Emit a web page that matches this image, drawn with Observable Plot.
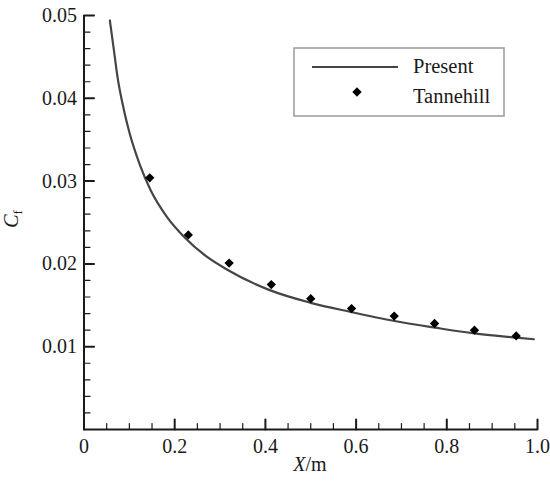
<!DOCTYPE html>
<html><head><meta charset="utf-8">
<script src="https://cdn.jsdelivr.net/npm/d3@7"></script>
<script src="https://cdn.jsdelivr.net/npm/@observablehq/plot@0.6"></script>
<style>body{margin:0;background:#fff}</style>
</head><body><div id="chart"></div>
<script>
// Present (solid curve)
const presentX  = [0.057, 0.066, 0.073, 0.088, 0.100, 0.123, 0.147, 0.184, 0.222, 0.270, 0.316, 0.411, 0.500, 0.588, 0.685, 0.774, 0.861, 0.953, 0.992];
const presentCf = [0.0494, 0.0458, 0.0429, 0.0386, 0.0359, 0.0320, 0.0289, 0.0256, 0.0232, 0.0209, 0.0193, 0.0168, 0.0153, 0.0142, 0.0131, 0.0123, 0.0116, 0.0111, 0.0109];
// Tannehill (diamonds)
const tannehillX  = [0.145, 0.23, 0.32, 0.413, 0.50, 0.59, 0.684, 0.773, 0.861, 0.953];
const tannehillCf = [0.0304, 0.0235, 0.0201, 0.0175, 0.0158, 0.0146, 0.0137, 0.0128, 0.0120, 0.0113];
// axes
const xTicks = [0, 0.2, 0.4, 0.6, 0.8, 1.0];
const xTickLabels = ["0", "0.2", "0.4", "0.6", "0.8", "1.0"];
const yTicks = [0.01, 0.02, 0.03, 0.04, 0.05];
const yTickLabels = ["0.01", "0.02", "0.03", "0.04", "0.05"];
const xMinor = d3.range(0, 21).map(i => i * 0.05).filter((v, i) => i % 4 !== 0);
const yMinor = d3.range(0, 26).map(i => i * 0.002).filter((v, i) => i % 5 !== 0);
const legendLabels = ["Present", "Tannehill"];

const ink = "#1a1a1a";
const font = '"Liberation Serif"';
const ctx = document.createElement("canvas").getContext("2d");
["", "italic "].forEach(s => { ctx.font = `${s}20px ${font}`; ctx.measureText("Tannehill 0.05 X/m Cf"); });

const tickShape = {draw(context, l) { context.moveTo(0, 0); context.lineTo(0, -l); }};

const plot = Plot.plot({
  width: 550, height: 482,
  marginLeft: 83.5, marginRight: 13, marginTop: 15, marginBottom: 53,
  style: {fontFamily: font, fontSize: "20px", color: ink, background: "white"},
  x: {domain: [0, 1]},
  y: {domain: [0, 0.05]},
  marks: [
    Plot.axisX(xTicks, {tickSize: 0, tickPadding: 9, tickFormat: (d, i) => xTickLabels[i], label: null}),
    Plot.axisY(yTicks, {tickSize: 0, tickPadding: 7, tickFormat: (d, i) => yTickLabels[i], label: null}),
    // inward ticks
    Plot.vector(xTicks, {x: d => d, y: 0, length: 10, rotate: 0, anchor: "start", shape: tickShape, stroke: ink, strokeWidth: 2}),
    Plot.vector(yTicks, {x: 0, y: d => d, length: 10, rotate: 90, anchor: "start", shape: tickShape, stroke: ink, strokeWidth: 2}),
    Plot.vector(xMinor, {x: d => d, y: 0, length: 6, rotate: 0, anchor: "start", shape: tickShape, stroke: ink, strokeWidth: 1.2}),
    Plot.vector(yMinor, {x: 0, y: d => d, length: 6, rotate: 90, anchor: "start", shape: tickShape, stroke: ink, strokeWidth: 1.2}),
    Plot.ruleX([0], {stroke: ink, strokeWidth: 2}),
    Plot.ruleY([0], {stroke: ink, strokeWidth: 2}),
    Plot.line(presentX, {x: presentX, y: presentCf, stroke: "#454545", strokeWidth: 2.2, curve: "monotone-x"}),
    Plot.dot(tannehillX, {x: tannehillX, y: tannehillCf, symbol: "diamond2", r: 4.2, fill: "#000", stroke: "none"})
  ]
});
document.getElementById("chart").appendChild(plot);

const svg = d3.select(plot);
svg.attr("font-family", font).attr("font-size", 20);
// legend
const lg = svg.append("g");
lg.append("rect").attr("x", 294).attr("y", 48).attr("width", 210).attr("height", 68)
  .attr("fill", "white").attr("stroke", "#9a9a9a").attr("stroke-width", 1.5);
lg.append("line").attr("x1", 312).attr("x2", 398).attr("y1", 67).attr("y2", 67)
  .attr("stroke", "#454545").attr("stroke-width", 2.2);
lg.append("path").attr("d", d3.symbol(d3.symbolDiamond2, Math.PI * 4.2 * 4.2)())
  .attr("transform", "translate(357,92)").attr("fill", "#000");
lg.selectAll("text.lab").data(legendLabels).join("text").attr("class", "lab")
  .attr("x", 413).attr("y", (d, i) => 73 + i * 30).attr("text-anchor", "start")
  .attr("font-size", 20.5).attr("fill", ink).text(d => d);

// axis titles
const yl = svg.append("text").attr("transform", "translate(18,219) rotate(-90)")
  .attr("text-anchor", "middle").attr("font-size", 20).attr("fill", ink);
yl.append("tspan").attr("font-style", "italic").text("C");
yl.append("tspan").attr("font-size", 13).attr("dy", 4).text("f");
const xl = svg.append("text").attr("x", 310).attr("y", 471)
  .attr("text-anchor", "middle").attr("font-size", 20).attr("fill", ink);
xl.append("tspan").attr("font-style", "italic").text("X");
xl.append("tspan").text("/m");

svg.selectAll("text, tspan").attr("font-family", font).style("font-family", font);
</script>
</body></html>
